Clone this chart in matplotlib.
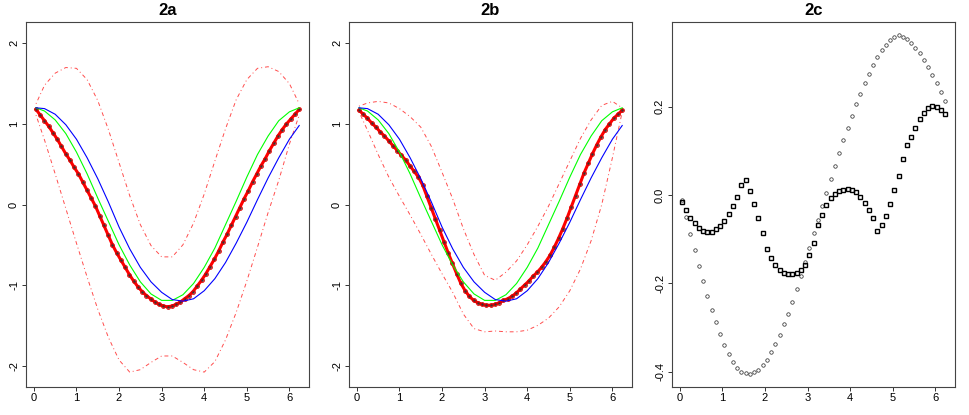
import numpy as np
import matplotlib
matplotlib.use("Agg")
import matplotlib.pyplot as plt

plt.rcParams['font.family'] = ['Liberation Sans', 'DejaVu Sans']

# sample positions
x_line = [0.05, 0.25, 0.5, 0.75, 1.0, 1.25, 1.5, 1.75, 2.0, 2.25, 2.5, 2.75, 3.0,
          3.25, 3.5, 3.75, 4.0, 4.25, 4.5, 4.75, 5.0, 5.25, 5.5, 5.75, 6.0, 6.23]
x_pts = np.linspace(0.05, 6.23, 63)

# lines shared by 2a and 2b
green = [1.20, 1.16, 1.05, 0.88, 0.65, 0.38, 0.08, -0.21, -0.50, -0.75, -0.96, -1.11, -1.19,
         -1.19, -1.12, -0.98, -0.78, -0.54, -0.25, 0.04, 0.34, 0.62, 0.85, 1.04, 1.15, 1.20]
blue = [1.20, 1.19, 1.12, 0.99, 0.81, 0.58, 0.32, 0.03, -0.28, -0.55, -0.78, -0.96, -1.09,
        -1.18, -1.20, -1.17, -1.07, -0.92, -0.72, -0.48, -0.22, 0.06, 0.33, 0.58, 0.81, 0.98]

# 2a
a_upper = [1.25, 1.48, 1.63, 1.70, 1.69, 1.55, 1.29, 0.93, 0.52, 0.11, -0.25, -0.51, -0.65,
           -0.65, -0.50, -0.23, 0.13, 0.54, 0.94, 1.30, 1.55, 1.69, 1.71, 1.65, 1.50, 1.25]
a_lower = [1.11, 0.80, 0.38, -0.05, -0.48, -0.90, -1.30, -1.65, -1.93, -2.08, -2.05, -1.96, -1.88,
           -1.88, -1.96, -2.05, -2.08, -1.95, -1.68, -1.34, -0.95, -0.53, -0.10, 0.30, 0.75, 1.11]
a_red = [1.18, 1.11, 1.04, 0.97, 0.89, 0.81, 0.72, 0.63, 0.55, 0.46,
         0.38, 0.28, 0.18, 0.08, -0.02, -0.14, -0.26, -0.38, -0.50, -0.60,
         -0.69, -0.78, -0.87, -0.95, -1.02, -1.08, -1.13, -1.17, -1.21, -1.24,
         -1.26, -1.27, -1.26, -1.24, -1.21, -1.17, -1.13, -1.08, -1.01, -0.94,
         -0.86, -0.77, -0.68, -0.58, -0.47, -0.37, -0.26, -0.15, -0.04, 0.07,
         0.17, 0.28, 0.38, 0.48, 0.57, 0.67, 0.76, 0.85, 0.93, 1.00,
         1.06, 1.12, 1.18]

# 2b
b_upper = [1.22, 1.26, 1.28, 1.26, 1.19, 1.09, 0.96, 0.72, 0.40, 0.07, -0.30, -0.62, -0.88,
           -0.94, -0.84, -0.70, -0.50, -0.27, -0.02, 0.26, 0.54, 0.82, 1.05, 1.23, 1.28, 1.20]
b_lower = [1.15, 0.92, 0.62, 0.34, 0.10, -0.13, -0.37, -0.62, -0.86, -1.09, -1.36, -1.54, -1.58,
           -1.57, -1.58, -1.58, -1.56, -1.50, -1.41, -1.27, -1.07, -0.80, -0.45, 0.00, 0.58, 1.15]
b_red = [1.17, 1.12, 1.07, 1.01, 0.96, 0.90, 0.85, 0.79, 0.73, 0.67,
         0.61, 0.55, 0.48, 0.41, 0.34, 0.24, 0.10, -0.04, -0.18, -0.32,
         -0.46, -0.60, -0.73, -0.86, -0.98, -1.07, -1.14, -1.19, -1.22, -1.24,
         -1.25, -1.25, -1.24, -1.22, -1.19, -1.17, -1.14, -1.10, -1.05, -1.00,
         -0.95, -0.89, -0.84, -0.78, -0.71, -0.63, -0.53, -0.42, -0.30, -0.17,
         -0.03, 0.11, 0.25, 0.39, 0.51, 0.63, 0.74, 0.84, 0.93, 1.00,
         1.07, 1.12, 1.17]

# 2c
c_hollow = [-0.011, -0.050, -0.088, -0.125, -0.160, -0.195, -0.228, -0.259, -0.288, -0.315,
            -0.339, -0.360, -0.377, -0.390, -0.399, -0.403, -0.404, -0.401, -0.395, -0.385,
            -0.372, -0.356, -0.337, -0.316, -0.292, -0.268, -0.241, -0.213, -0.182, -0.152,
            -0.120, -0.087, -0.056, -0.025, 0.005, 0.036, 0.066, 0.095, 0.124, 0.152,
            0.179, 0.205, 0.229, 0.252, 0.273, 0.293, 0.311, 0.327, 0.340, 0.350,
            0.358, 0.361, 0.358, 0.352, 0.343, 0.333, 0.320, 0.305, 0.289, 0.272,
            0.253, 0.232, 0.212]
c_bold = [-0.016, -0.035, -0.052, -0.064, -0.074, -0.081, -0.084, -0.083, -0.077, -0.069,
          -0.058, -0.044, -0.026, -0.005, 0.022, 0.035, 0.010, -0.020, -0.052, -0.086,
          -0.121, -0.143, -0.158, -0.170, -0.176, -0.179, -0.179, -0.176, -0.169, -0.158,
          -0.136, -0.109, -0.068, -0.045, -0.022, -0.007, 0.003, 0.009, 0.012, 0.014,
          0.012, 0.007, -0.005, -0.018, -0.033, -0.053, -0.081, -0.068, -0.048, -0.020,
          0.012, 0.044, 0.082, 0.113, 0.132, 0.151, 0.171, 0.185, 0.196, 0.201,
          0.200, 0.192, 0.183]

x_ticks = [0, 1, 2, 3, 4, 5, 6]
ab_yticks = [-2, -1, 0, 1, 2]
ab_ylabels = ["-2", "-1", "0", "1", "2"]
c_yticks = [-0.4, -0.2, 0.0, 0.2]
c_ylabels = ["-0.4", "-0.2", "0.0", "0.2"]

fig = plt.figure(figsize=(9.69, 4.15), dpi=100)
W, H = 969, 415
ax1 = fig.add_axes([26 / W, 28 / H, 283 / W, 365 / H])
ax2 = fig.add_axes([349 / W, 28 / H, 283 / W, 365 / H])
ax3 = fig.add_axes([672 / W, 28 / H, 283 / W, 365 / H])


def style(ax, title, yt, yl, ylim):
    ax.set_xlim(-0.185, 6.46)
    ax.set_ylim(*ylim)
    ax.set_xticks(x_ticks)
    ax.set_xticklabels([str(t) for t in x_ticks])
    ax.set_yticks(yt)
    ax.set_yticklabels(yl, rotation=90, va='center')
    ax.tick_params(axis='both', length=3, width=0.7, labelsize=8, color='#333333')
    ax.tick_params(axis='x', pad=1)
    ax.tick_params(axis='y', pad=2)
    for s in ax.spines.values():
        s.set_color('#444444')
        s.set_linewidth(0.8)
    ax.set_title(title, fontsize=12, fontweight='bold', pad=5)


def ci_panel(ax, title, red, upper, lower):
    dd = (0, (1, 3, 4, 3))
    ax.plot(x_line, upper, color='#ff2020', lw=0.7, ls=dd, alpha=0.8)
    ax.plot(x_line, lower, color='#ff2020', lw=0.7, ls=dd, alpha=0.8)
    ax.plot(x_pts, red, color='red', lw=2.2)
    ax.plot(x_pts, red, ls='none', marker='o', ms=2.6, mfc='none', mec='#e00000', mew=0.8)
    ax.plot(x_pts, red, ls='none', marker='.', ms=1.3, color='#333333')
    ax.plot(x_line, green, color='#00ff00', lw=0.8)
    ax.plot(x_line, blue, color='#0000ff', lw=0.8)
    style(ax, title, ab_yticks, ab_ylabels, (-2.265, 2.265))


ci_panel(ax1, "2a", a_red, a_upper, a_lower)
ci_panel(ax2, "2b", b_red, b_upper, b_lower)

ax3.plot(x_pts, c_hollow, ls='none', marker='o', ms=2.5, mfc='none', mec='#333333', mew=0.55)
ax3.plot(x_pts, c_bold, ls='none', marker='s', ms=2.7, mfc='none', mec='black', mew=1.0)
style(ax3, "2c", c_yticks, c_ylabels, (-0.434, 0.391))

fig.savefig("out.png", dpi=100)
